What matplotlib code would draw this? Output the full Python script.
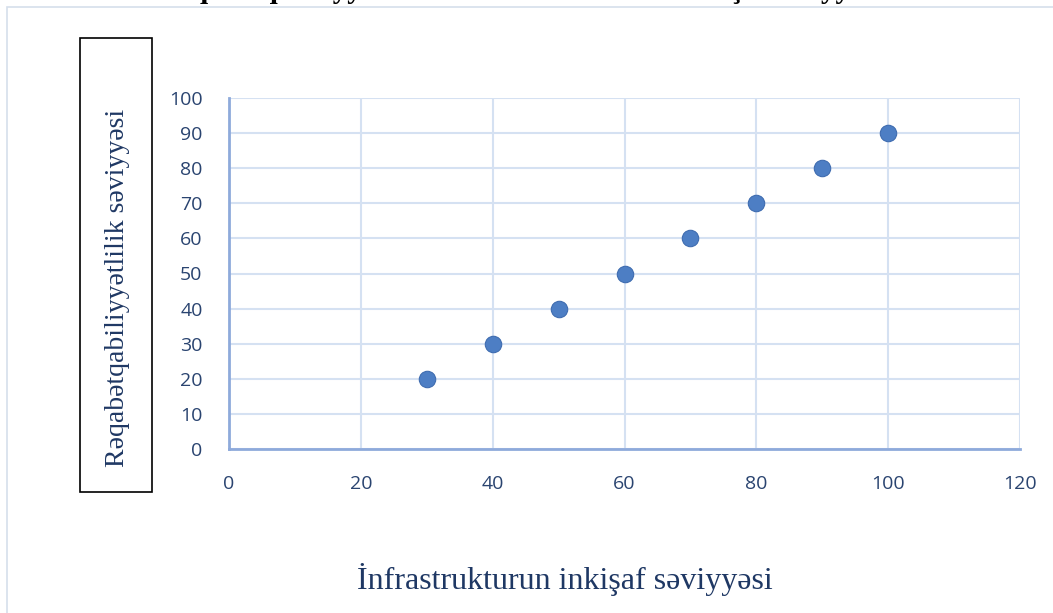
import matplotlib.pyplot as plt
from matplotlib.patches import Rectangle

# data
infra = [30, 40, 50, 60, 70, 80, 90, 100]
competitiveness = [20, 30, 40, 50, 60, 70, 80, 90]
x_ticks = [0, 20, 40, 60, 80, 100, 120]
y_ticks = [0, 10, 20, 30, 40, 50, 60, 70, 80, 90, 100]

title = 'Rəqabətqabiliyyətlilik ilə infrastrukturun inkişaf səviyyəsi'
x_label = 'İnfrastrukturun inkişaf səviyyəsi'
y_label = 'Rəqabətqabiliyyətlilik səviyyəsi'

navy = '#1f3864'
tick_color = '#2a4470'

fig = plt.figure(figsize=(10.53, 6.13), dpi=100)

# outer chart border
fig.patches.append(Rectangle((7 / 1053, -0.01), 1.0, 1 - 7 / 613 + 0.01,
                             transform=fig.transFigure, fill=False,
                             edgecolor='#d6dfeb', lw=1.2))

# title, mostly cut off at the top edge (as in the source image)
fig.text(520 / 1053, 1 + 2 / 613, title, ha='center', va='baseline',
         family='Liberation Serif', fontweight='bold', fontsize=21, color='black')

ax = fig.add_axes([229 / 1053, 1 - 449 / 613, 791 / 1053, 351 / 613])
ax.scatter(infra, competitiveness, s=140, color='#4d7ec4',
           edgecolor='#3f6cb0', linewidth=0.8, zorder=3, clip_on=False)

ax.set_xlim(0, 120)
ax.set_ylim(0, 100)
ax.set_xticks(x_ticks)
ax.set_yticks(y_ticks)
ax.grid(True, color='#d5e1f2', lw=1.5)
ax.set_axisbelow(True)
for s in ['top', 'right']:
    ax.spines[s].set_visible(False)
for s in ['left', 'bottom']:
    ax.spines[s].set_color('#8eaadb')
    ax.spines[s].set_linewidth(2)
ax.tick_params(axis='both', length=0, labelsize=14, labelcolor=tick_color)
ax.tick_params(axis='x', pad=19)
ax.tick_params(axis='y', pad=19)
for lbl in ax.get_xticklabels() + ax.get_yticklabels():
    lbl.set_family('Open Sans')

# y label in its own box
fig.patches.append(Rectangle((80 / 1053, 1 - 492 / 613), 72 / 1053, 454 / 613,
                             transform=fig.transFigure, fill=False,
                             edgecolor='black', lw=1.2))
fig.text(117 / 1053, 1 - 288 / 613, y_label, rotation=90, ha='center', va='center',
         family='Liberation Serif', fontsize=20, color=navy)

fig.text(565 / 1053, 1 - 580 / 613, x_label, ha='center', va='center',
         family='Liberation Serif', fontsize=23, color=navy)

fig.savefig('out.png', dpi=100)
